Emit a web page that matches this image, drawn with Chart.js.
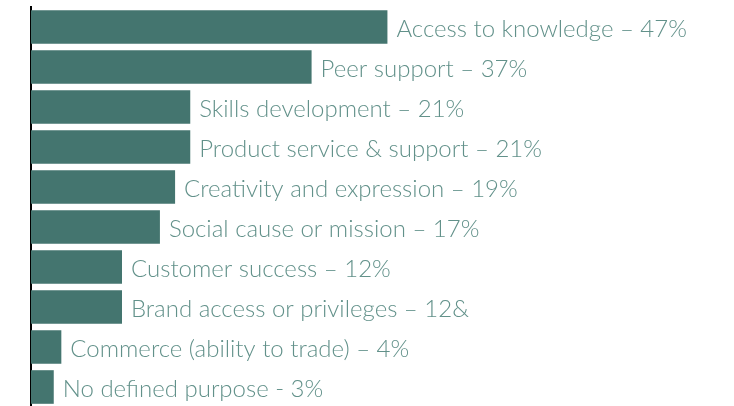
<!DOCTYPE html>
<html>
<head>
<meta charset="utf-8">
<script src="https://cdn.jsdelivr.net/npm/chart.js@4"></script>
<style>
  html, body { margin: 0; padding: 0; background: #fff; overflow: hidden; }
  #wrap { width: 734px; height: 414px; position: relative; }
</style>
</head>
<body>
<div id="wrap"><canvas id="purposeChart"></canvas></div>
<script>
// community purposes, share of respondents
const categories = [
    'Access to knowledge',
    'Peer support',
    'Skills development',
    'Product service & support',
    'Creativity and expression',
    'Social cause or mission',
    'Customer success',
    'Brand access or privileges',
    'Commerce (ability to trade)',
    'No defined purpose'
];
const shares = [47, 37, 21, 21, 19, 17, 12, 12, 4, 3];
// label suffixes exactly as printed
const valueLabels = ['– 47%', '– 37%', '– 21%', '– 21%', '– 19%', '– 17%', '– 12%', '– 12&', '– 4%', '- 3%'];

const barColor = '#44756f';
const textColor = '#62918a';

// writes "category – value" just past the end of each bar
const barLabels = {
    id: 'barLabels',
    afterDatasetsDraw(chart) {
        const ctx = chart.ctx;
        const meta = chart.getDatasetMeta(0);
        ctx.save();
        ctx.font = '300 24px Lato, "Open Sans", sans-serif';
        ctx.fillStyle = textColor;
        ctx.textBaseline = 'middle';
        ctx.textAlign = 'left';
        meta.data.forEach(function (bar, i) {
            ctx.fillText(categories[i] + ' ' + valueLabels[i], bar.x + 9, bar.y + 2);
        });
        ctx.restore();
    }
};

function createChart() {
    var parentNode = document.getElementById('purposeChart');

    new Chart(parentNode, {
        type: 'bar',
        data: {
            labels: categories,
            datasets: [{
                data: shares,
                backgroundColor: barColor,
                borderWidth: 0,
                barPercentage: 0.84,
                categoryPercentage: 1
            }]
        },
        options: {
            indexAxis: 'y',
            responsive: true,
            maintainAspectRatio: false,
            animation: false,
            layout: {
                padding: { left: 31, top: 7, right: 0, bottom: 7 }
            },
            scales: {
                x: {
                    display: false,
                    min: 0,
                    max: 92.7
                },
                y: {
                    grid: { display: false, drawTicks: false },
                    border: { display: true, color: '#000', width: 2 },
                    ticks: { display: false }
                }
            },
            plugins: {
                legend: { display: false },
                tooltip: { enabled: false }
            }
        },
        plugins: [barLabels]
    });
}

createChart();
</script>
</body>
</html>
